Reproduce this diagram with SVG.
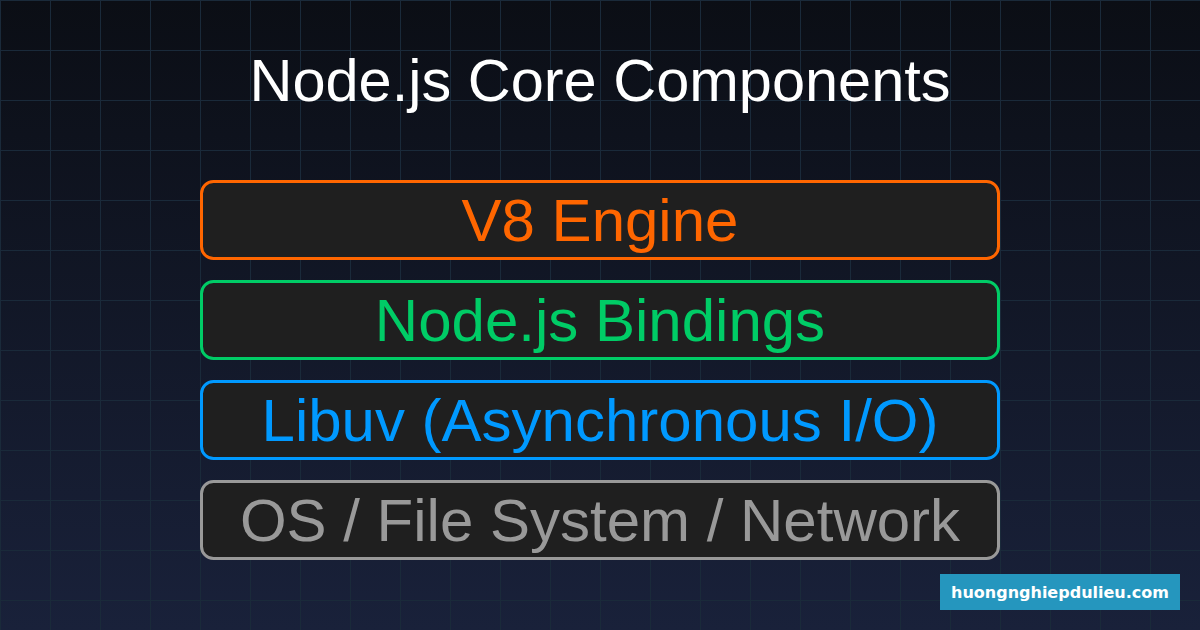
<svg xmlns="http://www.w3.org/2000/svg" width="1200" height="630" viewBox="0 0 1200 630">
<defs>
<linearGradient id="bg" x1="0" y1="0" x2="0" y2="1">
<stop offset="0" stop-color="#0b0e15"/>
<stop offset="1" stop-color="#19213a"/>
</linearGradient>
<pattern id="grid" width="50" height="50" patternUnits="userSpaceOnUse">
<path d="M0.5 0V50M0 0.5H50" fill="none" stroke="#1a2a3a" stroke-width="1"/>
</pattern>
<style>
.box{fill:#1f1f1f;stroke-width:3}
.lbl{font-family:"Liberation Sans",Arial,sans-serif;font-size:60px;text-anchor:middle}
</style>
</defs>
<rect width="1200" height="630" fill="url(#bg)"/>
<rect width="1200" height="630" fill="url(#grid)"/>
<text x="600" y="101" class="lbl" fill="#ffffff" style="font-size:59.5px">Node.js Core Components</text>
<g id="v8">
<rect x="201.5" y="181.5" width="797" height="77" rx="12" class="box" stroke="#ff6600"/>
<text x="600" y="241" class="lbl" fill="#ff6600">V8 Engine</text>
</g>
<g id="bindings">
<rect x="201.5" y="281.5" width="797" height="77" rx="12" class="box" stroke="#00cc66"/>
<text x="600" y="341" class="lbl" fill="#00cc66">Node.js Bindings</text>
</g>
<g id="libuv">
<rect x="201.5" y="381.5" width="797" height="77" rx="12" class="box" stroke="#0099ff"/>
<text x="600" y="441" class="lbl" fill="#0099ff">Libuv (Asynchronous I/O)</text>
</g>
<g id="os">
<rect x="201.5" y="481.5" width="797" height="77" rx="12" class="box" stroke="#999999"/>
<text x="600" y="541" class="lbl" fill="#999999">OS / File System / Network</text>
</g>
<g id="connectors"/>
<g id="watermark">
<rect x="940" y="574" width="240" height="36" fill="#2596be"/>
<text x="1060" y="598" font-family="'DejaVu Sans',sans-serif" font-weight="bold" font-size="16" fill="#ffffff" text-anchor="middle">huongnghiepdulieu.com</text>
</g>
</svg>
